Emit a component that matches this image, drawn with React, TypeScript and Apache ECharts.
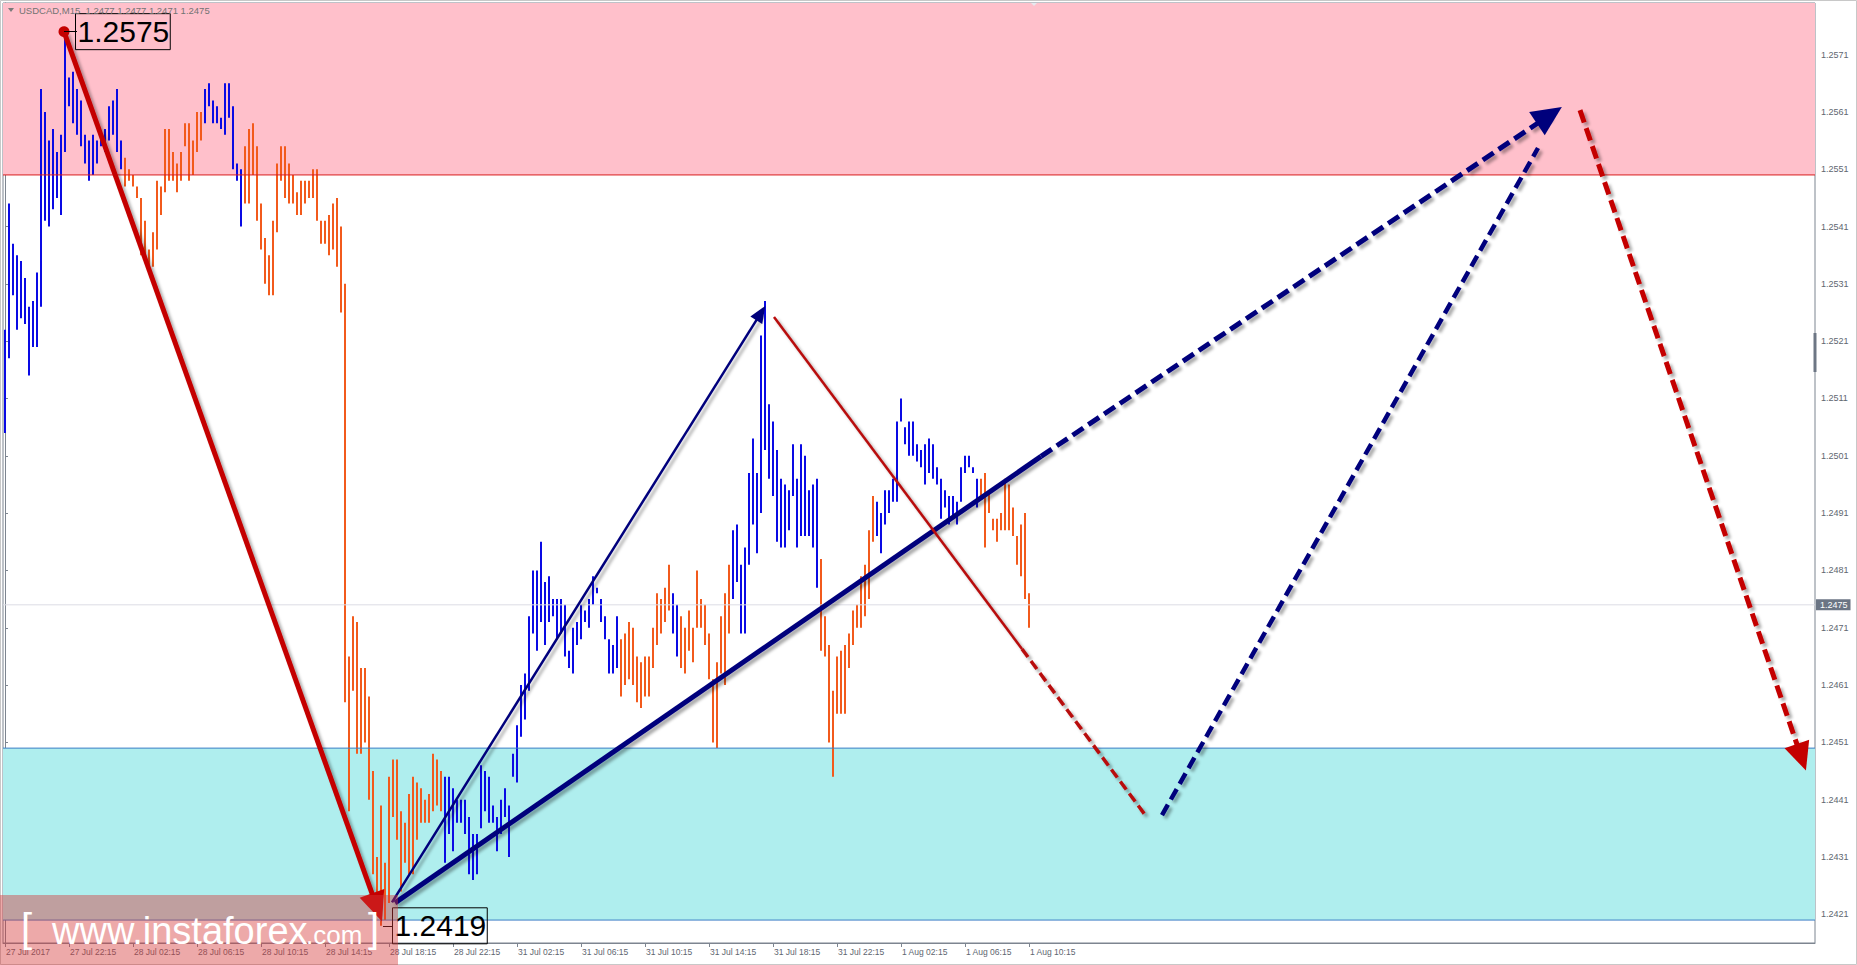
import React, { useEffect, useRef } from "react";
import * as echarts from "echarts";

// ---- data (USDCAD, M15) ----
const symbolTitle = "USDCAD,M15  1.2477 1.2477 1.2471 1.2475";
const lastPrice = 1.2475;
const timeLabels = [
  "27 Jul 2017", "27 Jul 22:15", "28 Jul 02:15", "28 Jul 06:15", "28 Jul 10:15",
  "28 Jul 14:15", "28 Jul 18:15", "28 Jul 22:15", "31 Jul 02:15", "31 Jul 06:15",
  "31 Jul 10:15", "31 Jul 14:15", "31 Jul 18:15", "31 Jul 22:15", "1 Aug 02:15",
  "1 Aug 06:15", "1 Aug 10:15",
];
const barsPerLabel = 16;
const priceTicks = [
  1.2421, 1.2431, 1.2441, 1.2451, 1.2461, 1.2471, 1.2481, 1.2491,
  1.2501, 1.2511, 1.2521, 1.2531, 1.2541, 1.2551, 1.2561, 1.2571,
];
const highs = [
  1.2523, 1.2545, 1.2538, 1.2536, 1.2535, 1.2532, 1.2527, 1.2528, 1.2533, 1.2565,
  1.2561, 1.2556, 1.2558, 1.2554, 1.2557, 1.2575, 1.2567, 1.2568, 1.2565, 1.2563,
  1.2557, 1.2556, 1.2557, 1.2556, 1.2557, 1.2558, 1.2562, 1.2563, 1.2565, 1.2556,
  1.2553, 1.2551, 1.2550, 1.2548, 1.2546, 1.2542, 1.2537, 1.2540, 1.2549, 1.2548,
  1.2558, 1.2558, 1.2554, 1.2552, 1.2554, 1.2559, 1.2559, 1.2556, 1.2561, 1.2561,
  1.2565, 1.2566, 1.2563, 1.2562, 1.2560, 1.2566, 1.2566, 1.2562, 1.2552, 1.2551,
  1.2555, 1.2558, 1.2559, 1.2555, 1.2545, 1.2539, 1.2536, 1.2542, 1.2552, 1.2555,
  1.2555, 1.2552, 1.2550, 1.2547, 1.2549, 1.2549, 1.2549, 1.2551, 1.2551, 1.2542,
  1.2542, 1.2543, 1.2545, 1.2546, 1.2541, 1.2531, 1.2466, 1.2473, 1.2472, 1.2464,
  1.2464, 1.2459, 1.2446, 1.2431, 1.2440, 1.2430, 1.2445, 1.2448, 1.2448, 1.2439,
  1.2437, 1.2442, 1.2445, 1.2444, 1.2443, 1.2441, 1.2442, 1.2449, 1.2448, 1.2446,
  1.2445, 1.2445, 1.2443, 1.2441, 1.2441, 1.2441, 1.2438, 1.2435, 1.2435, 1.2447,
  1.2446, 1.2445, 1.2440, 1.2438, 1.2441, 1.2443, 1.2440, 1.2449, 1.2454, 1.2461,
  1.2463, 1.2473, 1.2481, 1.2481, 1.2486, 1.2479, 1.2480, 1.2476, 1.2476, 1.2476,
  1.2475, 1.2467, 1.2471, 1.2472, 1.2475, 1.2474, 1.2476, 1.2480, 1.2478, 1.2476,
  1.2473, 1.2469, 1.2468, 1.2473, 1.2469, 1.2470, 1.2472, 1.2471, 1.2466, 1.2465,
  1.2466, 1.2466, 1.2471, 1.2477, 1.2476, 1.2478, 1.2482, 1.2477, 1.2475, 1.2473,
  1.2471, 1.2474, 1.2471, 1.2481, 1.2476, 1.2475, 1.2470, 1.2462, 1.2465, 1.2473,
  1.2477, 1.2482, 1.2488, 1.2489, 1.2482, 1.2485, 1.2498, 1.2504, 1.2498, 1.2522,
  1.2528, 1.2510, 1.2507, 1.2502, 1.2497, 1.2496, 1.2495, 1.2503, 1.2497, 1.2503,
  1.2501, 1.2495, 1.2496, 1.2497, 1.2483, 1.2473, 1.2468, 1.2460, 1.2466, 1.2467,
  1.2468, 1.2470, 1.2474, 1.2475, 1.2480, 1.2482, 1.2488, 1.2494, 1.2493, 1.2491,
  1.2495, 1.2495, 1.2497, 1.2507, 1.2511, 1.2506, 1.2507, 1.2507, 1.2503, 1.2502,
  1.2503, 1.2504, 1.2503, 1.2499, 1.2497, 1.2495, 1.2494, 1.2494, 1.2493, 1.2499,
  1.2501, 1.2501, 1.2499, 1.2497, 1.2497, 1.2498, 1.2495, 1.2490, 1.2490, 1.2491,
  1.2497, 1.2496, 1.2492, 1.2487, 1.2489, 1.2491, 1.2477,
];
const lows = [
  1.2505, 1.2518, 1.2529, 1.2523, 1.2525, 1.2524, 1.2515, 1.2520, 1.2520, 1.2527,
  1.2542, 1.2541, 1.2544, 1.2546, 1.2543, 1.2554, 1.2562, 1.2559, 1.2557, 1.2555,
  1.2552, 1.2549, 1.2550, 1.2552, 1.2555, 1.2554, 1.2556, 1.2557, 1.2554, 1.2551,
  1.2548, 1.2549, 1.2548, 1.2546, 1.2536, 1.2535, 1.2533, 1.2534, 1.2537, 1.2543,
  1.2547, 1.2549, 1.2549, 1.2547, 1.2549, 1.2555, 1.2549, 1.2550, 1.2554, 1.2556,
  1.2559, 1.2562, 1.2559, 1.2559, 1.2558, 1.2557, 1.2560, 1.2551, 1.2549, 1.2541,
  1.2545, 1.2545, 1.2550, 1.2542, 1.2537, 1.2531, 1.2529, 1.2529, 1.2540, 1.2549,
  1.2546, 1.2545, 1.2545, 1.2543, 1.2543, 1.2545, 1.2546, 1.2546, 1.2542, 1.2538,
  1.2538, 1.2536, 1.2537, 1.2534, 1.2526, 1.2458, 1.2439, 1.2460, 1.2449, 1.2449,
  1.2451, 1.2441, 1.2428, 1.2421, 1.2419, 1.2420, 1.2423, 1.2438, 1.2434, 1.2425,
  1.2430, 1.2428, 1.2428, 1.2434, 1.2437, 1.2437, 1.2437, 1.2439, 1.2440, 1.2439,
  1.2430, 1.2435, 1.2432, 1.2437, 1.2437, 1.2435, 1.2428, 1.2427, 1.2428, 1.2436,
  1.2439, 1.2437, 1.2437, 1.2432, 1.2435, 1.2438, 1.2431, 1.2445, 1.2444, 1.2452,
  1.2455, 1.2460, 1.2470, 1.2467, 1.2472, 1.2468, 1.2472, 1.2473, 1.2469, 1.2470,
  1.2466, 1.2464, 1.2463, 1.2468, 1.2469, 1.2472, 1.2471, 1.2475, 1.2477, 1.2472,
  1.2469, 1.2463, 1.2463, 1.2464, 1.2459, 1.2461, 1.2462, 1.2461, 1.2458, 1.2457,
  1.2459, 1.2459, 1.2464, 1.2468, 1.2470, 1.2472, 1.2474, 1.2470, 1.2466, 1.2464,
  1.2463, 1.2467, 1.2465, 1.2471, 1.2471, 1.2468, 1.2462, 1.2451, 1.2450, 1.2463,
  1.2461, 1.2470, 1.2476, 1.2479, 1.2470, 1.2470, 1.2482, 1.2489, 1.2484, 1.2491,
  1.2502, 1.2497, 1.2494, 1.2486, 1.2485, 1.2485, 1.2488, 1.2494, 1.2485, 1.2487,
  1.2487, 1.2487, 1.2485, 1.2478, 1.2467, 1.2466, 1.2451, 1.2445, 1.2456, 1.2456,
  1.2456, 1.2464, 1.2468, 1.2471, 1.2471, 1.2473, 1.2476, 1.2486, 1.2487, 1.2484,
  1.2489, 1.2491, 1.2493, 1.2493, 1.2507, 1.2503, 1.2501, 1.2501, 1.2500, 1.2499,
  1.2496, 1.2498, 1.2497, 1.2496, 1.2490, 1.2492, 1.2489, 1.2490, 1.2489, 1.2493,
  1.2498, 1.2499, 1.2498, 1.2492, 1.2494, 1.2485, 1.2491, 1.2488, 1.2486, 1.2488,
  1.2488, 1.2488, 1.2487, 1.2482, 1.2480, 1.2476, 1.2471,
];
// colour runs of the bars: 1 = blue (rising wave), 0 = orange (falling wave)
const colourRuns: Array<[number, number]> = [
  [1, 30], [0, 20], [1, 10], [0, 50], [1, 44], [0, 13], [1, 2], [0, 13], [1, 22], [0, 14], [1, 26], [0, 13],
];
const sellZone = [1.2550, 1.2580];
const buyZone = [1.2420, 1.2450];
const swingHigh = { x: 14.75, price: 1.2575, text: "1.2575" };
const swingLow = { x: 94.25, price: 1.2419, text: "1.2419" };

// ---- styles ----
const BLUE = "#0a0ae4";
const ORANGE = "#f25a1c";
const RED = "#c40000";
const RED_THIN = "#b80a0a";
const NAVY = "#00007c";
const AXIS = "#7d8590";
const LABEL = "#5e6670";
const FONT = '"Liberation Sans", Arial, sans-serif';

const shadow = { shadowColor: "rgba(0,0,0,0.33)", shadowBlur: 3, shadowOffsetX: 3, shadowOffsetY: 3 };

export default function App() {
  const ref = useRef<HTMLDivElement>(null);
  useEffect(() => {
    document.body.style.margin = "0";
    const chart = echarts.init(ref.current!, null, { renderer: "svg" });
    const dirs: number[] = colourRuns.flatMap(([c, n]) => Array(n).fill(c));
    const bars = highs.map((h, i) => [i, h, lows[i], dirs[i]]);
    const xMin = -0.5;
    const xMax = 452.5;
    const labelTicks = timeLabels.map((_, k) => k * barsPerLabel);

    const end = (coord: number[], symbol = "none", symbolSize: any = 0) => ({ coord, symbol, symbolSize });
    const seg = (a: number[], b: number[], lineStyle: any, symA = "none", sizeA: any = 0, symB = "none", sizeB: any = 0) => [
      { coord: a, symbol: symA, symbolSize: sizeA, lineStyle },
      end(b, symB, sizeB),
    ];

    const waveLines = [
      // big falling arrow from the 1.2575 high to the 1.2419 low
      seg([swingHigh.x, swingHigh.price], [93.0, 1.24222], { color: RED, width: 5, type: "solid", ...shadow }, "circle", 11, "triangle", [26, 30]),
      // thin rising arrow
      seg([96.75, 1.24231], [188.95, 1.25259], { color: NAVY, width: 2.5, type: "solid", ...shadow }, "none", 0, "triangle", [14, 17]),
      // thick rising trend line and its dashed projection
      seg([97.5, 1.2423], [259, 1.25009], { color: NAVY, width: 5, type: "solid", ...shadow }),
      seg([259, 1.25009], [386.1, 1.25604], { color: NAVY, width: 5, type: [13, 6], ...shadow }, "none", 0, "triangle", [28, 30]),
      // thin falling line and dashed projection
      seg([192.25, 1.25252], [254.25, 1.24673], { color: RED_THIN, width: 2.5, type: "solid", ...shadow }),
      seg([254.25, 1.24673], [285.5, 1.24379], { color: RED_THIN, width: 3.5, type: [10, 5], ...shadow }),
      // dashed projected rise
      seg([289.25, 1.24383], [383.25, 1.25547], { color: NAVY, width: 4.5, type: [12, 6], ...shadow }),
      // dashed projected fall
      seg([393.75, 1.25613], [449.1, 1.24484], { color: RED, width: 5, type: [13, 6], ...shadow }, "none", 0, "triangle", [26, 28]),
      // connectors to price boxes
      seg([swingHigh.x, swingHigh.price], [18.0, swingHigh.price], { color: "#000", width: 1, type: "solid" }),
      seg([94.5, swingLow.price], [96.8, swingLow.price], { color: "#000", width: 1, type: "solid" }),
    ];

    const priceBox = (p: { x: number; price: number; text: string }, dist: number) => ({
      coord: [p.x, p.price],
      symbol: "circle",
      symbolSize: 1,
      itemStyle: { color: "rgba(0,0,0,0)" },
      label: {
        show: true,
        position: "right",
        distance: dist,
        formatter: p.text,
        color: "#000",
        fontFamily: FONT,
        fontSize: 30,
        lineHeight: 34,
        borderColor: "#000",
        borderWidth: 1,
        padding: [2, 1, 0, 2],
      },
    });

    const option: any = {
      animation: false,
      backgroundColor: "#ffffff",
      grid: { left: 3, right: 42, top: 3, bottom: 22, show: true, borderColor: AXIS, borderWidth: 1, backgroundColor: "#ffffff" },
      xAxis: {
        type: "value",
        min: xMin,
        max: xMax,
        position: "bottom",
        splitLine: { show: false },
        axisLine: { show: true, lineStyle: { color: AXIS, width: 1 } },
        axisTick: { show: true, customValues: labelTicks, length: 4, lineStyle: { color: AXIS } },
        axisLabel: {
          customValues: labelTicks,
          formatter: (v: number) => timeLabels[Math.round(v / barsPerLabel)] ?? "",
          align: "left",
          margin: 4,
          padding: [0, 0, 0, 1],
          color: LABEL,
          fontFamily: FONT,
          fontSize: 8.5,
        },
      },
      yAxis: {
        type: "value",
        position: "right",
        min: 1.2416,
        max: 1.258,
        scale: true,
        splitLine: { show: false },
        axisLine: { show: true, lineStyle: { color: AXIS, width: 1 } },
        axisTick: { show: true, customValues: priceTicks, length: 3, lineStyle: { color: AXIS } },
        axisLabel: {
          customValues: priceTicks,
          formatter: (v: number) => v.toFixed(4),
          margin: 6,
          color: LABEL,
          fontFamily: FONT,
          fontSize: 9,
        },
      },
      series: [
        {
          // supply / demand zones
          type: "line",
          data: [],
          silent: true,
          clip: false,
          markArea: {
            silent: true,
            data: [
              [{ yAxis: sellZone[0], itemStyle: { color: "#ffc0cb" } }, { yAxis: sellZone[1] }],
              [{ yAxis: buyZone[0], itemStyle: { color: "#afeeee" } }, { yAxis: buyZone[1] }],
            ],
          },
        },
        {
          type: "line",
          data: [[xMin, sellZone[0]], [xMax, sellZone[0]]],
          showSymbol: false,
          silent: true,
          lineStyle: { color: "#d81e1e", width: 1 },
        },
        {
          type: "line",
          data: [[xMin, buyZone[1]], [xMax, buyZone[1]]],
          showSymbol: false,
          silent: true,
          lineStyle: { color: "#3d7fc6", width: 1 },
        },
        {
          type: "line",
          data: [[xMin, buyZone[0]], [xMax, buyZone[0]]],
          showSymbol: false,
          silent: true,
          lineStyle: { color: "#3d7fc6", width: 1 },
        },
        {
          // last price line with its label on the price scale
          type: "line",
          data: [[xMin, lastPrice], [xMax, lastPrice]],
          showSymbol: false,
          silent: true,
          clip: false,
          lineStyle: { color: "#dcdce4", width: 1 },
          endLabel: {
            show: true,
            formatter: lastPrice.toFixed(4),
            distance: 1,
            color: "#ffffff",
            backgroundColor: "#6b7584",
            padding: [1, 3, 1, 4],
            fontFamily: FONT,
            fontSize: 9,
          },
        },
        {
          type: "custom",
          data: bars,
          encode: { x: 0, y: [1, 2] },
          silent: true,
          renderItem: (params: any, api: any) => {
            const i = api.value(0);
            const top = api.coord([i, api.value(1)]);
            const bot = api.coord([i, api.value(2)]);
            const h = Math.max(1.5, bot[1] - top[1]);
            return {
              type: "rect",
              shape: { x: top[0] - 1, y: top[1], width: 2, height: h },
              style: { fill: api.value(3) === 1 ? BLUE : ORANGE },
            };
          },
        },
        {
          // wave annotations
          type: "line",
          data: [],
          silent: true,
          clip: false,
          markLine: {
            silent: true,
            animation: false,
            label: { show: false },
            emphasis: { disabled: true },
            data: waveLines,
          },
          markPoint: {
            silent: true,
            data: [priceBox(swingHigh, 11), priceBox(swingLow, 10)],
          },
        },
      ],
      graphic: [
        { type: "rect", shape: { x: 0.5, y: 0.5, width: 1856, height: 964 }, style: { fill: "none", stroke: "#c8c8c8", lineWidth: 1 }, z: 50 },
        { type: "rect", shape: { x: 1813.5, y: 333, width: 3, height: 39 }, style: { fill: "#6d7684" }, z: 50 },
        { type: "polygon", shape: { points: [[8, 8], [14, 8], [11, 12]] }, style: { fill: "#7a7a7a" }, z: 50 },
        { type: "polygon", shape: { points: [[1031, 3], [1037, 3], [1034, 6]] }, style: { fill: "#e8e8ee" }, z: 50 },
        { type: "text", x: 19, y: 10, style: { text: symbolTitle, fill: "#737373", font: `9.5px ${FONT}`, verticalAlign: "middle" }, z: 50 },
        // watermark
        { type: "rect", shape: { x: 0, y: 895, width: 398, height: 70 }, style: { fill: "rgba(214,55,55,0.43)" }, z: 60 },
        { type: "text", x: 21, y: 928, style: { text: "[", fill: "#ffffff", font: `40px ${FONT}`, lineHeight: 32, verticalAlign: "middle" }, z: 61 },
        { type: "text", x: 52, y: 931, style: { text: "www.instaforex", fill: "#ffffff", font: `38px ${FONT}`, lineHeight: 28, verticalAlign: "middle" }, z: 61 },
        { type: "text", x: 306, y: 935, style: { text: ".com", fill: "#ffffff", font: `26px ${FONT}`, lineHeight: 20, verticalAlign: "middle" }, z: 61 },
        { type: "text", x: 368, y: 928, style: { text: "]", fill: "#ffffff", font: `40px ${FONT}`, lineHeight: 32, verticalAlign: "middle" }, z: 61 },
      ],
    };
    chart.setOption(option);
    return () => chart.dispose();
  }, []);
  return <div ref={ref} style={{ position: "absolute", left: 0, top: 0, width: 1857, height: 965 }} />;
}
